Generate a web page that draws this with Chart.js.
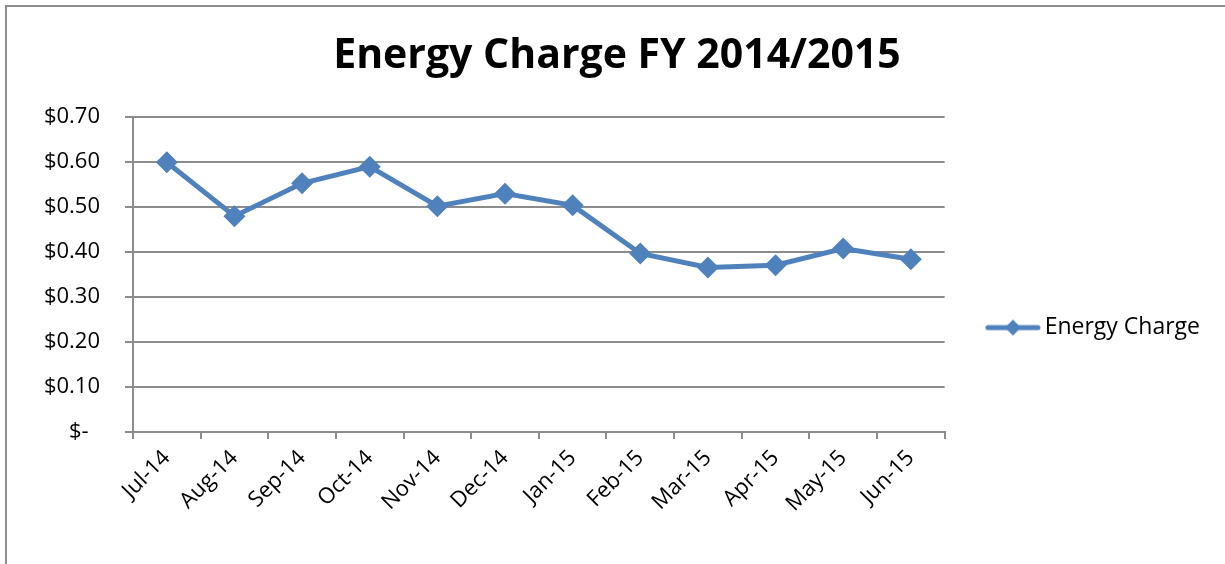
<!DOCTYPE html>
<html>
<head>
<meta charset="utf-8">
<script src="https://cdn.jsdelivr.net/npm/chart.js@4.4.1/dist/chart.umd.min.js"></script>
<style>
    html, body { margin: 0; padding: 0; background: #fff; }
    #wrap { position: relative; width: 1225px; height: 564px; }
    #frame {
        position: absolute; left: 5px; top: 5px; right: -5px; bottom: -5px;
        border-left: 2px solid #8c8c8c; border-top: 2px solid #8c8c8c;
        pointer-events: none;
    }
</style>
</head>
<body>
<div id="wrap">
    <canvas id="energy-chart" width="1225" height="564"></canvas>
    <div id="frame"></div>
</div>
<script>
const months = ['Jul-14', 'Aug-14', 'Sep-14', 'Oct-14', 'Nov-14', 'Dec-14',
    'Jan-15', 'Feb-15', 'Mar-15', 'Apr-15', 'May-15', 'Jun-15'];
const energyCharge = [0.600, 0.480, 0.553, 0.590, 0.502, 0.530,
    0.504, 0.397, 0.366, 0.371, 0.408, 0.384];
const yTicks = [0, 0.1, 0.2, 0.3, 0.4, 0.5, 0.6, 0.7];

const lineColor = '#4f81bd';
const gridColor = '#8c8c8c';

Chart.defaults.font.family = "'Open Sans', 'DejaVu Sans', sans-serif";
Chart.defaults.color = '#000';

// legend marker: line with a diamond, drawn in the right part of a wider image
const legendIcon = document.createElement('canvas');
legendIcon.width = 94;
legendIcon.height = 18;
(function () {
    const c = legendIcon.getContext('2d');
    c.strokeStyle = lineColor;
    c.lineWidth = 5;
    c.lineCap = 'round';
    c.beginPath();
    c.moveTo(41, 9);
    c.lineTo(91, 9);
    c.stroke();
    c.fillStyle = lineColor;
    c.beginPath();
    c.moveTo(66, 1);
    c.lineTo(74, 9);
    c.lineTo(66, 17);
    c.lineTo(58, 9);
    c.closePath();
    c.fill();
})();

const energyChartField = document.getElementById('energy-chart');
const energyChart = new Chart(energyChartField, {
        type: 'line',
        data: {
            labels: months,
            datasets: [{
                label: 'Energy Charge',
                data: energyCharge,
                borderColor: lineColor,
                backgroundColor: lineColor,
                borderWidth: 5,
                tension: 0,
                pointStyle: 'rectRot',
                pointRadius: 11,
                pointBorderWidth: 0,
                pointBackgroundColor: lineColor
            }]
        },
        options: {
            responsive: false,
            animation: false,
            layout: {
                padding: {left: 24, right: 15, top: 0, bottom: 0}
            },
            plugins: {
                title: {
                    display: true,
                    text: 'Energy Charge FY 2014/2015',
                    color: '#000',
                    font: {size: 41, weight: 'bold'},
                    padding: {top: 32, bottom: 36}
                },
                legend: {
                    position: 'right',
                    title: {
                        display: true,
                        text: '',
                        font: {size: 1},
                        padding: {top: 0, bottom: 90}
                    },
                    labels: {
                        usePointStyle: true,
                        pointStyle: legendIcon,
                        pointStyleWidth: 78.5,
                        color: '#000',
                        font: {size: 23},
                        padding: 10
                    }
                },
                tooltip: {enabled: false}
            },
            scales: {
                x: {
                    offset: true,
                    afterFit: function (scale) {
                        scale.height = 132;
                    },
                    grid: {
                        offset: true,
                        drawOnChartArea: false,
                        drawTicks: true,
                        tickLength: 7,
                        color: gridColor,
                        lineWidth: 2
                    },
                    border: {display: true, color: gridColor, width: 2},
                    ticks: {
                        maxRotation: 45,
                        minRotation: 45,
                        padding: 6,
                        font: {size: 22},
                        color: '#000'
                    }
                },
                y: {
                    min: 0,
                    max: 0.7,
                    afterFit: function (scale) {
                        scale.width = 109;
                    },
                    afterBuildTicks: function (scale) {
                        scale.ticks = yTicks.map(v => ({value: v}));
                    },
                    grid: {
                        color: gridColor,
                        lineWidth: 2,
                        tickLength: 8
                    },
                    border: {display: true, color: gridColor, width: 2},
                    ticks: {
                        padding: 25,
                        font: {size: 22},
                        color: '#000',
                        callback: function (v) {
                            return v === 0 ? '$-  ' : '$' + v.toFixed(2);
                        }
                    }
                }
            }
        }
    }
);
</script>
</body>
</html>
